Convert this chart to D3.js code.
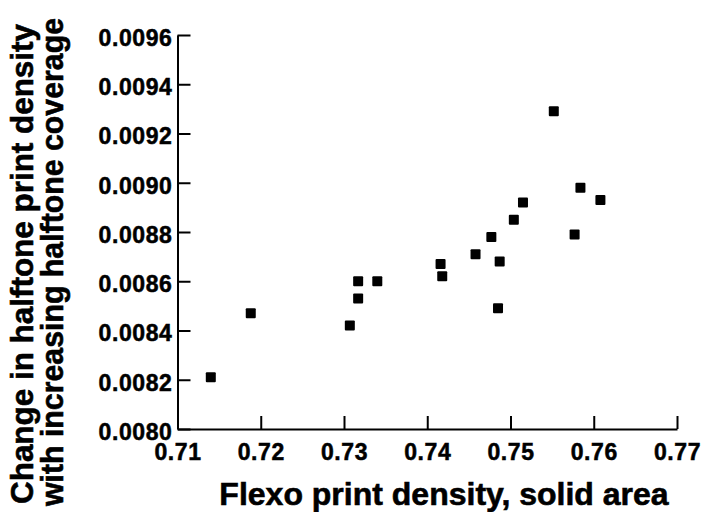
<!DOCTYPE html>
<html>
<head>
<meta charset="utf-8">
<script src="https://cdn.jsdelivr.net/npm/d3@7"></script>
<style>
  body { margin: 0; background: #fff; }
  text { font-family: "Liberation Sans", Arial, sans-serif; font-weight: bold; fill: #000; }
</style>
</head>
<body>
<div id="chart-area"></div>
<script>
const solidDensity = [0.7140, 0.7188, 0.7307, 0.7317, 0.7317, 0.7340, 0.7416, 0.7418, 0.7458,
                      0.7477, 0.7487, 0.7485, 0.7504, 0.7515, 0.7552, 0.7577, 0.7584, 0.7608];
const halftoneChange = [0.00821, 0.00847, 0.00842, 0.00853, 0.00860, 0.00860, 0.00867, 0.00862, 0.00871,
                        0.00878, 0.00868, 0.00849, 0.00885, 0.00892, 0.00929, 0.00879, 0.00898, 0.00893];
const xTicks = [0.71, 0.72, 0.73, 0.74, 0.75, 0.76, 0.77];
const yTicks = [0.0080, 0.0082, 0.0084, 0.0086, 0.0088, 0.0090, 0.0092, 0.0094, 0.0096];

const drawGraph = () => {
  const width = 702;
  const height = 512;
  const margin = { top: 35, left: 177.5, right: 25, bottom: 83 };

  const svg = d3.select("#chart-area")
                .append("svg")
                .attr("width", width)
                .attr("height", height);

  const x = d3.scaleLinear()
              .domain([0.71, 0.77])
              .range([margin.left, width - margin.right]);

  const y = d3.scaleLinear()
              .domain([0.0080, 0.0096])
              .range([height - margin.bottom, margin.top]);

  const axisX = d3.axisBottom(x)
                  .tickValues(xTicks)
                  .tickFormat(d3.format(".2f"))
                  .tickSizeInner(-13)
                  .tickSizeOuter(0)
                  .tickPadding(15);

  const axisY = d3.axisLeft(y)
                  .tickValues(yTicks)
                  .tickFormat(d3.format(".4f"))
                  .tickSizeInner(-13)
                  .tickSizeOuter(0)
                  .tickPadding(5);

  const gx = svg.append("g")
                .attr("transform", "translate(0," + (height - margin.bottom) + ")")
                .call(axisX);

  const gy = svg.append("g")
                .attr("transform", "translate(" + margin.left + ",0)")
                .call(axisY);

  [gx, gy].forEach(g => {
    g.selectAll("path, line").attr("stroke", "#000").attr("stroke-width", 2);
    g.selectAll("text")
     .attr("fill", "#000")
     .attr("stroke", "#000")
     .attr("stroke-width", 0.5)
     .style("font-size", "23px")
     .style("letter-spacing", "0.6px")
     .style("font-family", "'Liberation Sans', Arial, sans-serif")
     .style("font-weight", "bold");
  });
  gy.selectAll("text").attr("dy", "0.45em");

  svg.append("g")
     .selectAll("rect")
     .data(solidDensity)
     .enter()
     .append("rect")
     .attr("x", d => x(d) - 5)
     .attr("y", (d, i) => y(halftoneChange[i]) - 5)
     .attr("width", 10)
     .attr("height", 10)
     .attr("rx", 1)
     .attr("fill", "#000");

  svg.append("text")
     .attr("text-anchor", "middle")
     .attr("x", 444)
     .attr("y", 505)
     .attr("stroke", "#000")
     .attr("stroke-width", 0.6)
     .style("font-size", "32px")
     .text("Flexo print density, solid area");

  // two-line rotated y title; lengths
  const yTitle = ["Change in halftone print density", "with increasing halftone coverage"];
  const yTitleLength = [480, 488];
  const yTitleCenter = [264, 262];
  svg.append("g")
     .selectAll("text")
     .data(yTitle)
     .enter()
     .append("text")
     .attr("text-anchor", "middle")
     .attr("transform", (d, i) => `translate(${33 + i * 30},${yTitleCenter[i]}) rotate(-90)`)
     .attr("textLength", (d, i) => yTitleLength[i])
     .attr("lengthAdjust", "spacingAndGlyphs")
     .attr("stroke", "#000")
     .attr("stroke-width", 0.6)
     .style("font-size", "31px")
     .text(d => d);
};

drawGraph();
</script>
</body>
</html>
